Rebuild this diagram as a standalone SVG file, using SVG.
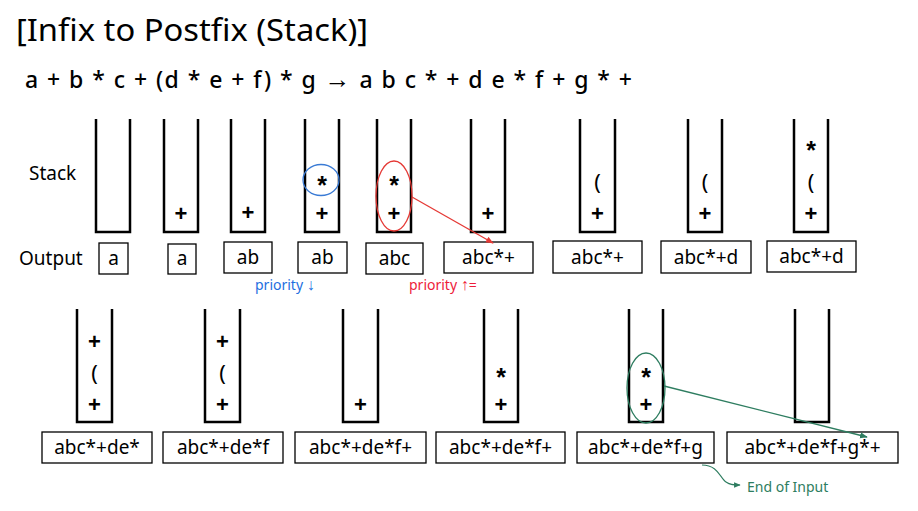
<svg xmlns="http://www.w3.org/2000/svg" width="918" height="511" viewBox="0 0 918 511">
<defs>
<style>
text{font-family:"Noto Sans","Liberation Sans",sans-serif;fill:#000}
.stk{fill:none;stroke:#000;stroke-width:2.5}
.box{fill:#fff;stroke:#000;stroke-width:1.3}
.bt{font-size:19px;text-anchor:middle}
.sym{font-size:22px;font-weight:bold;text-anchor:middle;font-family:"Liberation Sans",sans-serif}
.star{font-size:25px;font-weight:bold;text-anchor:middle;font-family:"Liberation Sans",sans-serif}
.par{font-size:22px;text-anchor:middle}
.lbl{font-size:19px}
</style>
<marker id="ar" viewBox="0 0 10 10" refX="9" refY="5" markerWidth="6" markerHeight="6" orient="auto"><path d="M0,1 L10,5 L0,9 z" fill="#e53935"/></marker>
<marker id="ag" viewBox="0 0 10 10" refX="9" refY="5" markerWidth="6" markerHeight="6" orient="auto"><path d="M0,1 L10,5 L0,9 z" fill="#2e7d60"/></marker>
</defs>
<rect width="918" height="511" fill="#fff"/>
<text x="16" y="41" font-size="30" textLength="352" lengthAdjust="spacingAndGlyphs">[Infix to Postfix (Stack)]</text>
<text x="25" y="88" font-size="23" font-weight="500" textLength="607" lengthAdjust="spacing">a + b * c + (d * e + f) * g <tspan font-size="26" font-weight="bold">→</tspan> a b c * + d e * f + g * +</text>
<text x="29" y="180" class="lbl">Stack</text>
<text x="19" y="265" class="lbl" font-size="20">Output</text>

<g id="s1"><path class="stk" d="M96,119 V232 H130 V119"/><rect class="box" x="99" y="243" width="29" height="31"/><text class="bt" x="113.5" y="265">a</text></g>
<g id="s2"><path class="stk" d="M164,119 V232 H198 V119"/><text class="sym" x="181" y="221">+</text><rect class="box" x="168" y="244" width="28" height="30"/><text class="bt" x="182" y="265">a</text></g>
<g id="s3"><path class="stk" d="M231,119 V232 H265 V119"/><text class="sym" x="248" y="220">+</text><rect class="box" x="224" y="242" width="48" height="31"/><text class="bt" x="248" y="264">ab</text></g>
<g id="s4"><path class="stk" d="M305,119 V232 H339 V119"/><text class="star" x="322" y="194">*</text><text class="sym" x="322" y="221">+</text><ellipse cx="321" cy="180" rx="18" ry="15.5" fill="none" stroke="#3a7bd5" stroke-width="1.3"/><rect class="box" x="298" y="242" width="49" height="31"/><text class="bt" x="322.5" y="264">ab</text></g>
<g id="s5"><path class="stk" d="M377,119 V232 H411 V119"/><text class="star" x="394" y="194">*</text><text class="sym" x="394" y="221">+</text><ellipse cx="394" cy="196" rx="18" ry="35" fill="none" stroke="#e53935" stroke-width="1.3"/><rect class="box" x="366" y="243" width="57" height="31"/><text class="bt" x="394.5" y="265">abc</text></g>
<g id="s6"><path class="stk" d="M471,119 V232 H505 V119"/><text class="sym" x="488" y="221">+</text><rect class="box" x="444" y="242" width="89" height="31"/><text class="bt" x="488.5" y="264">abc*+</text></g>
<g id="s7"><path class="stk" d="M580,119 V232 H615 V119"/><text class="par" x="597.5" y="190">(</text><text class="sym" x="597.5" y="221">+</text><rect class="box" x="553" y="241" width="89" height="32"/><text class="bt" x="597.5" y="264">abc*+</text></g>
<g id="s8"><path class="stk" d="M688,119 V232 H722 V119"/><text class="par" x="705" y="190">(</text><text class="sym" x="705" y="221">+</text><rect class="box" x="661" y="241" width="90" height="32"/><text class="bt" x="706" y="264">abc*+d</text></g>
<g id="s9"><path class="stk" d="M794,119 V232 H828 V119"/><text class="star" x="811" y="159">*</text><text class="par" x="811" y="190">(</text><text class="sym" x="811" y="221">+</text><rect class="box" x="767" y="241" width="89" height="31"/><text class="bt" x="811.5" y="263">abc*+d</text></g>

<text x="255" y="290" font-size="14" style="fill:#1e6fe0">priority <tspan font-size="16">↓</tspan></text>
<text x="409" y="290" font-size="14" style="fill:#ee1c3a">priority <tspan font-size="16">↑</tspan>=</text>

<g id="t1"><path class="stk" d="M77,309 V422 H112 V309"/><text class="sym" x="94.5" y="349">+</text><text class="par" x="94.5" y="381">(</text><text class="sym" x="94.5" y="412">+</text><rect class="box" x="42" y="432" width="110" height="31"/><text class="bt" x="97" y="454">abc*+de*</text></g>
<g id="t2"><path class="stk" d="M205,309 V422 H240 V309"/><text class="sym" x="222.5" y="349">+</text><text class="par" x="222.5" y="381">(</text><text class="sym" x="222.5" y="412">+</text><rect class="box" x="163" y="432" width="120" height="31"/><text class="bt" x="223" y="454">abc*+de*f</text></g>
<g id="t3"><path class="stk" d="M343,309 V422 H378 V309"/><text class="sym" x="360.5" y="412">+</text><rect class="box" x="295" y="432" width="131" height="31"/><text class="bt" x="360.5" y="454">abc*+de*f+</text></g>
<g id="t4"><path class="stk" d="M484,309 V422 H518 V309"/><text class="star" x="501" y="386">*</text><text class="sym" x="501" y="412">+</text><rect class="box" x="436" y="432" width="129" height="31"/><text class="bt" x="500.5" y="454">abc*+de*f+</text></g>
<g id="t5"><path class="stk" d="M629,309 V422 H663 V309"/><text class="star" x="646" y="386">*</text><text class="sym" x="646" y="412">+</text><ellipse cx="646" cy="388" rx="19" ry="35" fill="none" stroke="#2e7d60" stroke-width="1.3"/><rect class="box" x="577" y="432" width="137" height="31"/><text class="bt" x="645.5" y="454">abc*+de*f+g</text></g>
<g id="t6"><path class="stk" d="M795,309 V422 H829 V309"/><rect class="box" x="727" y="432" width="171" height="31"/><text class="bt" x="812.5" y="454">abc*+de*f+g*+</text></g>

<text x="747" y="492" font-size="14" style="fill:#2e7d60">End of Input</text>

<g id="connectors">
<line x1="412" y1="197" x2="493" y2="243" stroke="#e53935" stroke-width="1.3" marker-end="url(#ar)"/>
<line x1="664" y1="386" x2="867" y2="437" stroke="#2e7d60" stroke-width="1.3" marker-end="url(#ag)"/>
<path d="M702,465 C718,465 720,478 726,482 C730,485 734,485 740,485" fill="none" stroke="#2e7d60" stroke-width="1.1" marker-end="url(#ag)"/>
</g>
</svg>
